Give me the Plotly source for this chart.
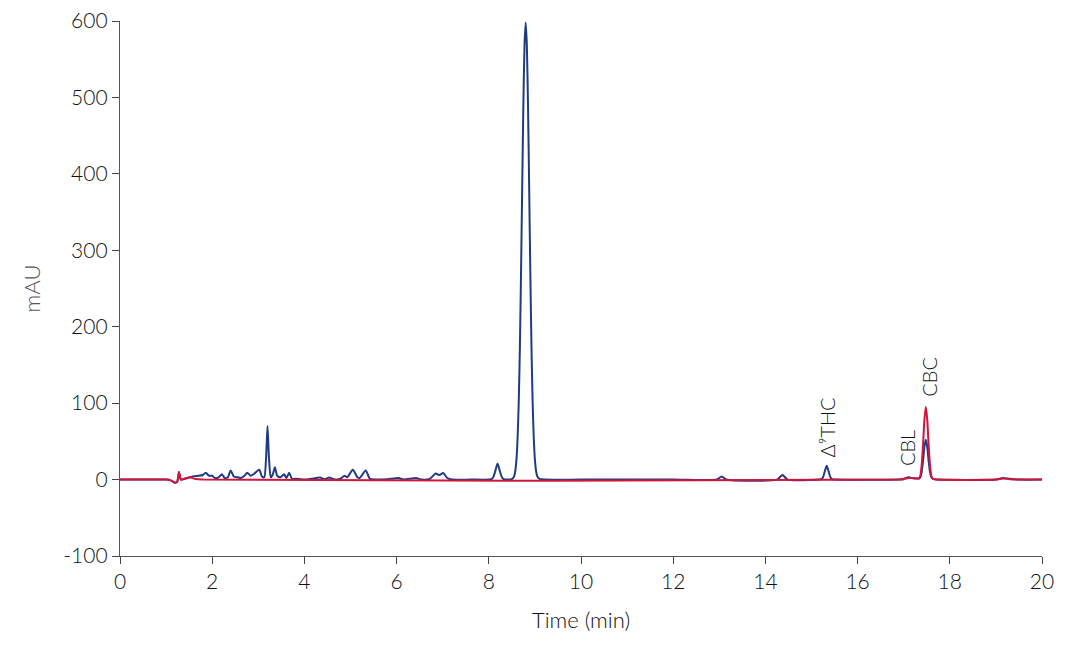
import plotly.graph_objects as go

# Blue chromatogram (sample) – time (min) / absorbance (mAU)
blue_time = [0, 1.0, 1.10, 1.19, 1.24, 1.28, 1.32, 1.40, 1.52, 1.60, 1.70, 1.80, 1.86, 1.93, 2.00, 2.06,
             2.14, 2.21, 2.27, 2.34, 2.40, 2.47, 2.55, 2.62, 2.70, 2.76, 2.83, 2.90, 3.02, 3.08, 3.13,
             3.17, 3.20, 3.23, 3.27, 3.31, 3.36, 3.41, 3.48, 3.56, 3.61, 3.67, 3.73, 3.80, 3.90, 4.00,
             4.15, 4.34, 4.44, 4.54, 4.64, 4.78, 4.87, 4.93, 5.05, 5.15, 5.20, 5.33, 5.42, 5.55, 5.80,
             6.04, 6.15, 6.42, 6.55, 6.72, 6.85, 6.93, 7.01, 7.10, 7.20, 7.60, 8.00, 8.06, 8.10, 8.14,
             8.19, 8.24, 8.28, 8.32, 8.40, 8.50, 8.55, 8.575, 8.60, 8.625, 8.65, 8.675, 8.70, 8.725,
             8.75, 8.775, 8.80, 8.825, 8.85, 8.875, 8.90, 8.925, 8.95, 8.975, 9.00, 9.025, 9.05, 9.10,
             9.20, 10.0, 12.0, 12.95, 13.05, 13.15, 14.25, 14.37, 14.48, 15.15, 15.21, 15.25, 15.29,
             15.33, 15.37, 15.41, 15.45, 15.52, 16.90, 17.00, 17.05, 17.10, 17.15, 17.22, 17.30, 17.36,
             17.39, 17.42, 17.45, 17.48, 17.51, 17.54, 17.57, 17.60, 17.65, 17.75, 19.00, 19.15, 19.30,
             19.50, 20.0]
blue_mau = [0, 0, -1, -4, -3, 10, 0, 1, 3, 4.5, 5, 6, 9, 5, 5, 2,
            3, 7, 2, 3, 12, 4, 3, 2, 5, 9, 5, 7, 13, 4, 3,
            30, 70, 30, 3, 6, 16, 5, 3, 7, 2, 9, 1, 1, 0.5, 0,
            1, 2.6, 0.5, 2.6, 0.5, 1, 5, 3, 13, 3, 2, 12, 1, 0, 0.5,
            2, 0, 2, 0, 1, 8, 6, 8.5, 2, 0, 0, 0, 0.5, 3.5, 11,
            21, 11, 3.5, 0.5, 0, 0.5, 4.5, 11.5, 26, 55, 103, 176, 274, 385,
            492, 569, 598, 569, 492, 385, 274, 176, 103, 55, 26, 11.5, 4.5, 1,
            0, 0, 0, 0, 4, 0, 0, 6, 0, 0, 0.5, 3, 11,
            18, 11, 3, 0.5, 0, 0, 0.5, 2, 3, 2.5, 1.5, 1.5, 3,
            10, 25, 43, 52, 43, 25, 10, 3, 0.5, 0, 0, 2, 1,
            0, 0]

# Red chromatogram (standard)
red_time = [0, 1.0, 1.10, 1.19, 1.24, 1.28, 1.32, 1.40, 1.52, 1.62, 1.80, 16.90, 17.05, 17.12, 17.20,
            17.30, 17.33, 17.36, 17.39, 17.42, 17.45, 17.48, 17.51, 17.54, 17.57, 17.60, 17.63, 17.70,
            19.00, 19.15, 19.30, 19.50, 20.0]
red_mau = [0, 0, -1, -4, -3, 10, 0, 1, 3, 1, 0, 0, 1.5, 2, 2,
           1.5, 1, 5, 19, 46, 79, 95, 79, 46, 19, 5, 1, 0,
           0, 1.5, 0.5, 0, 0]

# Peak labels
label_text = ["Δ⁹THC", "CBL", "CBC"]
label_time = [15.33, 17.07, 17.53]
label_mau = [26, 15, 106]

x_ticks = [0, 2, 4, 6, 8, 10, 12, 14, 16, 18, 20]
y_ticks = [-100, 0, 100, 200, 300, 400, 500, 600]
y_tick_text = ["-100", "0", "100", "200", "300", "400", "500", "600"]

FONT = "Lato, Open Sans, sans-serif"

fig = go.Figure()
fig.add_trace(go.Scatter(x=blue_time, y=blue_mau, mode="lines",
                         line=dict(color="#1F3C80", width=2, shape="spline", smoothing=0.6),
                         showlegend=False, hoverinfo="skip"))
fig.add_trace(go.Scatter(x=red_time, y=red_mau, mode="lines",
                         line=dict(color="#D2143C", width=2, shape="spline", smoothing=0.6),
                         showlegend=False, hoverinfo="skip"))

for t, x, y in zip(label_text, label_time, label_mau):
    fig.add_annotation(x=x, y=y, text=t, textangle=-90, showarrow=False,
                       xanchor="center", yanchor="bottom",
                       font=dict(family=FONT, size=20, color="#111", weight=300))

axis_font = dict(family=FONT, size=21, color="#111", weight=300)
fig.update_layout(
    width=1068, height=653,
    margin=dict(l=120, r=26, t=21, b=97),
    plot_bgcolor="white", paper_bgcolor="white",
    xaxis=dict(range=[0, 20], tickvals=x_ticks, ticks="outside", ticklen=7, tickwidth=1.3,
               tickcolor="#444", showline=True, linecolor="#555", linewidth=1.3,
               showgrid=False, zeroline=False, tickfont=axis_font, automargin=False,
               title=dict(text="Time (min)", font=dict(family=FONT, size=22, color="#111", weight=300),
                          standoff=20)),
    yaxis=dict(range=[-100, 600], tickvals=y_ticks, ticktext=y_tick_text, ticks="outside",
               ticklen=7, tickwidth=1.3,
               tickcolor="#444", showline=True, linecolor="#555", linewidth=1.3,
               showgrid=False, zeroline=False, tickfont=axis_font, automargin=False,
               title=dict(text="mAU", font=dict(family=FONT, size=22, color="#555", weight=300),
                          standoff=16)),
)

fig.write_html("out.html", config={"displayModeBar": False},
               post_script="document.body.style.margin='0';document.body.style.overflow='hidden';")
